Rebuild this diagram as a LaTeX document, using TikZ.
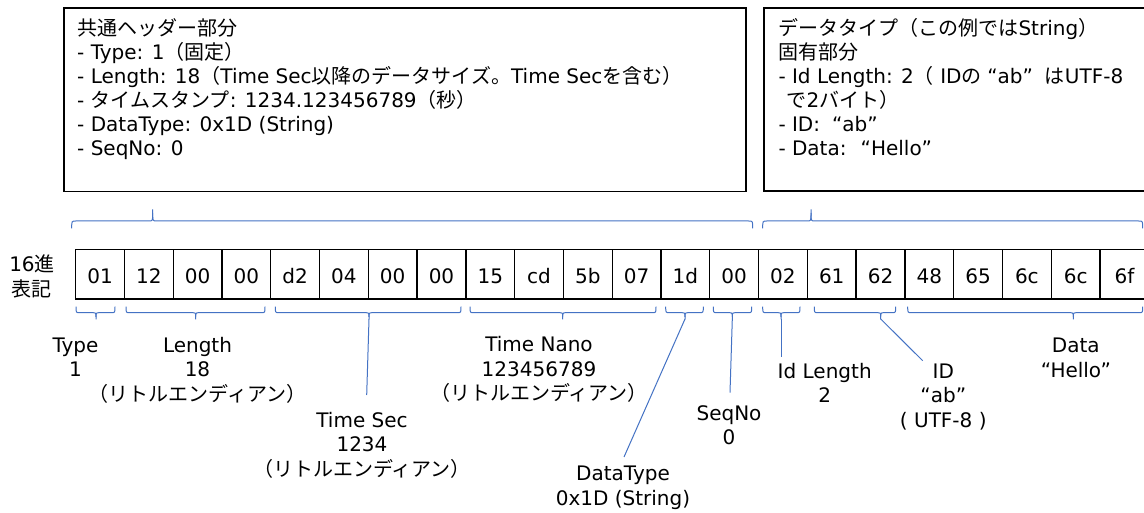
\documentclass[tikz,border=0pt]{standalone}
\usepackage{fontspec}
\setmainfont{DejaVu Sans}
\newfontfamily\jp{Noto Sans CJK JP}
\newcommand\J[1]{{\jp #1}}
\newcommand\fs{\rule{0pt}{19pt}}
\newcommand\ql{\makebox[16pt][r]{“}}
\newcommand\qr{\makebox[16pt][l]{”}}
\definecolor{brc}{HTML}{4472C4}
\newcommand\brup[3]{% x1, x2, tip : upward brace
  \draw[br] (#1,228.3) .. controls (#1,221) .. ({#1+4},221) -- ({#3-4},221)
    .. controls (#3,221) .. (#3,213) -- (#3,209.3);
  \draw[br] (#3,213) .. controls (#3,221) .. ({#3+4},221) -- ({#2-4},221)
    .. controls (#2,221) .. (#2,228.3);}
\newcommand\brdn[3]{% x1, x2, tip : downward brace
  \draw[br] (#1,306.7) .. controls (#1,312.7) .. ({#1+4},312.7) -- ({#3-4},312.7)
    .. controls (#3,312.7) .. (#3,317) -- (#3,319.5);
  \draw[br] (#3,317) .. controls (#3,312.7) .. ({#3+4},312.7) -- ({#2-4},312.7)
    .. controls (#2,312.7) .. (#2,306.7);}
\begin{document}
\begin{tikzpicture}[x=1pt,y=-1pt,
  box/.style={draw=black,line width=1.8pt},
  cell/.style={draw=black,line width=1.3pt,minimum width=48.78pt,minimum height=49.3pt,
    inner sep=0pt,anchor=north west,text height=19.2pt,text depth=0pt,
    font=\fontsize{20}{24}\selectfont},
  boxtext/.style={align=left,anchor=north west,inner sep=0pt,font=\fontsize{20}{24}\selectfont},
  lbl/.style={align=center,anchor=north,inner sep=0pt,font=\fontsize{20}{24.4}\selectfont},
  br/.style={draw=brc,line width=1pt},
  cn/.style={draw=brc,line width=1pt}]
\useasboundingbox (0,0) rectangle (1144,513);
\clip (0,0) rectangle (1144,513);
\fill[white] (0,0) rectangle (1144,513);
% top boxes
\draw[box] (64,8.3) rectangle (745.7,191.5);
\draw[box] (764,8.3) rectangle (1170,191.3);
\node[boxtext] (t1) at (77,16) {\fs\J{共通ヘッダー部分}\\
- Type: 1\J{（固定）}\\
- Length: 18\J{（}Time Sec\J{以降のデータサイズ。}Time Sec\J{を含む）}\\
- \J{タイムスタンプ}: 1234.123456789\J{（秒）}\\
- DataType: 0x1D (String)\\
- SeqNo: 0};
\node[boxtext] (t2) at (778.3,16) {\fs\J{データタイプ（この例では}String\J{）}\\
\J{固有部分}\\
- Id Length: 2\J{（} ID\J{の}\ql ab\qr\ \J{は}UTF-8\\
\hspace*{8pt}\J{で}2\J{バイト）}\\
- ID: \ql ab\qr\\
- Data: \ql Hello\qr};
% braces top
\brup{71.7}{752.7}{152.7}
\brup{762.7}{1142.7}{811}
% row label
\node[lbl] (hex) at (32,271.5-19) {\fs 16\J{進}\\\J{表記}};
% cells
\foreach \v [count=\i from 0] in {01,12,00,00,d2,04,00,00,15,cd,5b,07,1d,00,02,61,62,48,65,6c,6c,6f}
  \node[cell] (c\i) at ({75+\i*48.78},249) {\v};
% lower braces
\brdn{76}{115}{96}
\brdn{126}{265}{195.7}
\brdn{275.3}{461}{369}
\brdn{470}{656}{562.7}
\brdn{665.7}{703.3}{685}
\brdn{713.3}{751.7}{732.3}
\brdn{762.7}{800}{781}
\brdn{814.3}{895.7}{880.7}
\brdn{907.7}{1142.7}{1073.3}
% labels
\node[lbl] (lType) at (75.5,352.3-19) {\fs Type\\1};
\node[lbl] (lLen) at (197.5,352.3-19) {\fs Length\\18\\\J{（リトルエンディアン）}};
\node[lbl] (lTS) at (362,427.3-19) {\fs Time Sec\\1234\\\J{（リトルエンディアン）}};
\node[lbl] (lTN) at (539,351.7-19) {\fs Time Nano\\123456789\\\J{（リトルエンディアン）}};
\node[lbl] (lDT) at (623,480.7-19) {\fs DataType\\0x1D (String)};
\node[lbl] (lSeq) at (729,420-19) {\fs SeqNo\\0};
\node[lbl] (lIdL) at (824.7,378.3-19) {\fs Id Length\\2};
\node[lbl] (lID) at (943.3,378.3-19) {\fs ID\\“ab”\\( UTF-8 )};
\node[lbl] (lData) at (1075.8,352.7-19) {\fs Data\\“Hello”};
% connectors
\coordinate (tsA) at (369,319);   \coordinate (tsB) at (366.7,395);
\coordinate (dtA) at (685,319);   \coordinate (dtB) at (624,457);
\coordinate (sqA) at (732.3,319); \coordinate (sqB) at (730,392.7);
\coordinate (ilA) at (781,319);   \coordinate (ilB) at (781,356.7);
\coordinate (idA) at (880.7,319); \coordinate (idB) at (922.7,360.7);
\draw[cn] (tsA) -- (tsB);
\draw[cn] (dtA) -- (dtB);
\draw[cn] (sqA) -- (sqB);
\draw[cn] (ilA) -- (ilB);
\draw[cn] (idA) -- (idB);
\end{tikzpicture}
\end{document}
